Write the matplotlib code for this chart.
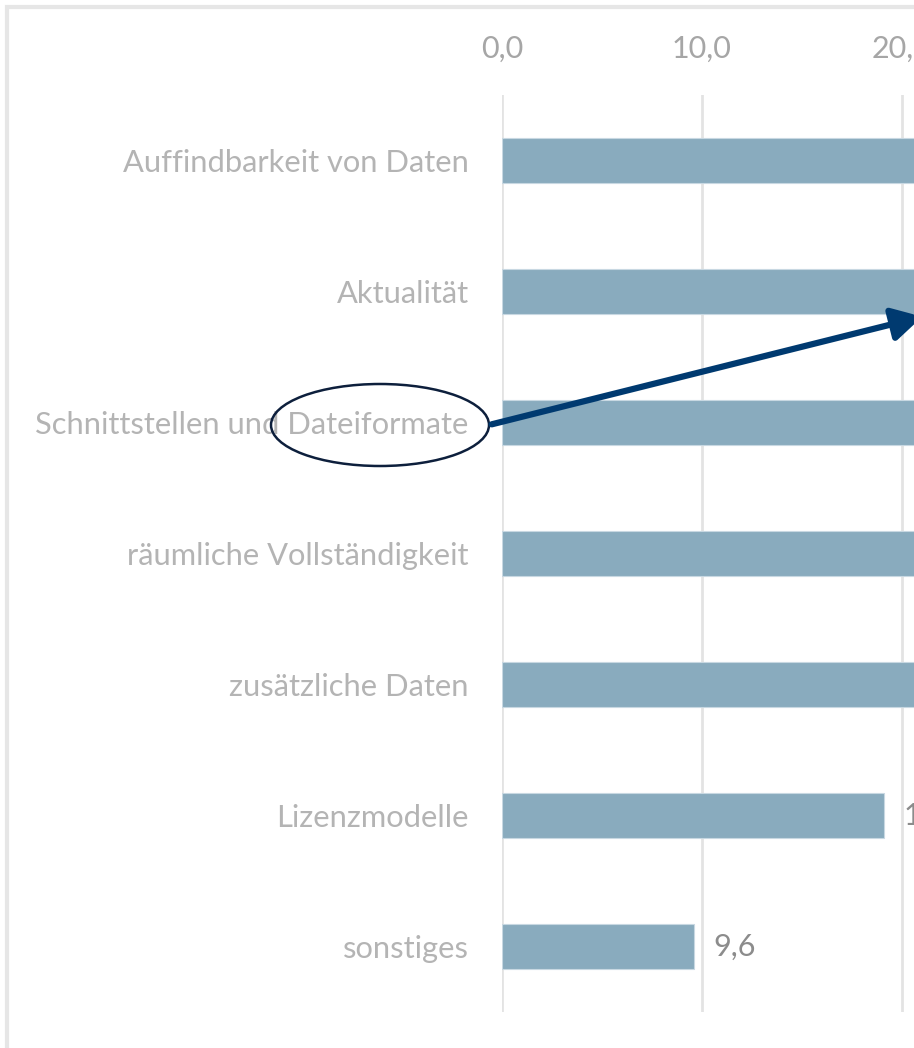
import matplotlib
matplotlib.use("Agg")
import matplotlib.pyplot as plt
from matplotlib.patches import Ellipse, Rectangle, FancyArrowPatch

categories = ["Auffindbarkeit von Daten", "Aktualität", "Schnittstellen und Dateiformate",
              "räumliche Vollständigkeit", "zusätzliche Daten", "Lizenzmodelle", "sonstiges"]
values = [45.2, 38.5, 33.7, 29.8, 24.0, 19.1, 9.6]
xticks = [0, 10, 20, 30, 40, 50]

W, H = 914, 1048
fig = plt.figure(figsize=(W / 100, H / 100), dpi=100)
fig.patch.set_facecolor("white")

def fx(px):
    return px / W

def fy(py):
    return 1 - py / H

# outer frame (cropped slide border)
fig.patches.append(Rectangle((fx(7), fy(1100)), fx(1000), fy(7) - fy(1100),
                             transform=fig.transFigure, fill=False,
                             edgecolor="#e6e6e6", linewidth=3, zorder=0))

ax_left, ax_top, ax_bottom = 502, 95, 1012
xmax = 50
ax_w = xmax * 20
ax = fig.add_axes([fx(ax_left), fy(ax_bottom), fx(ax_w), fy(ax_top) - fy(ax_bottom)])
ax.set_xlim(0, xmax)
ypos = list(range(len(categories)))
ax.set_ylim(len(categories) - 0.5, -0.5)

bars = ax.barh(ypos, values, height=0.35, color="#89abbe", edgecolor="#c8d8e2",
               linewidth=0.8, zorder=3)
ax.bar_label(bars, labels=[f"{v:.1f}".replace(".", ",") for v in values], padding=14,
             color="#8c8c8c", fontsize=22, family=["Lato", "DejaVu Sans"], clip_on=False)

ax.set_xticks(xticks)
ax.set_xticklabels([f"{t:.1f}".replace(".", ",") for t in xticks])
ax.xaxis.tick_top()
ax.tick_params(axis="x", length=0, pad=23, labelsize=22, labelcolor="#a6a6a6")
for lab in ax.get_xticklabels():
    lab.set_family(["Liberation Sans Narrow", "Lato", "DejaVu Sans"])
ax.set_yticks(ypos)
ax.set_yticklabels(categories)
ax.tick_params(axis="y", length=0, pad=24, labelsize=22.2, labelcolor="#b4b4b4")
for lab in ax.get_yticklabels():
    lab.set_family(["Lato", "DejaVu Sans"])

ax.grid(axis="x", color="#e3e3e3", linewidth=2, zorder=0)
for s in ax.spines.values():
    s.set_visible(False)
ax.set_facecolor("none")

# annotation: ellipse and arrow
fig.patches.append(Ellipse((fx(380), fy(425)), fx(218), fy(384) - fy(466),
                           transform=fig.transFigure, fill=False,
                           edgecolor="#0d1f3c", linewidth=1.8, zorder=5))
fig.patches.append(FancyArrowPatch((fx(489), fy(425)), (fx(925), fy(316)),
                                   transform=fig.transFigure,
                                   arrowstyle="-|>,head_length=0.9,head_width=0.5",
                                   mutation_scale=20, color="#003a70",
                                   linewidth=4.5, zorder=6))

fig.savefig("out.png", dpi=100)
